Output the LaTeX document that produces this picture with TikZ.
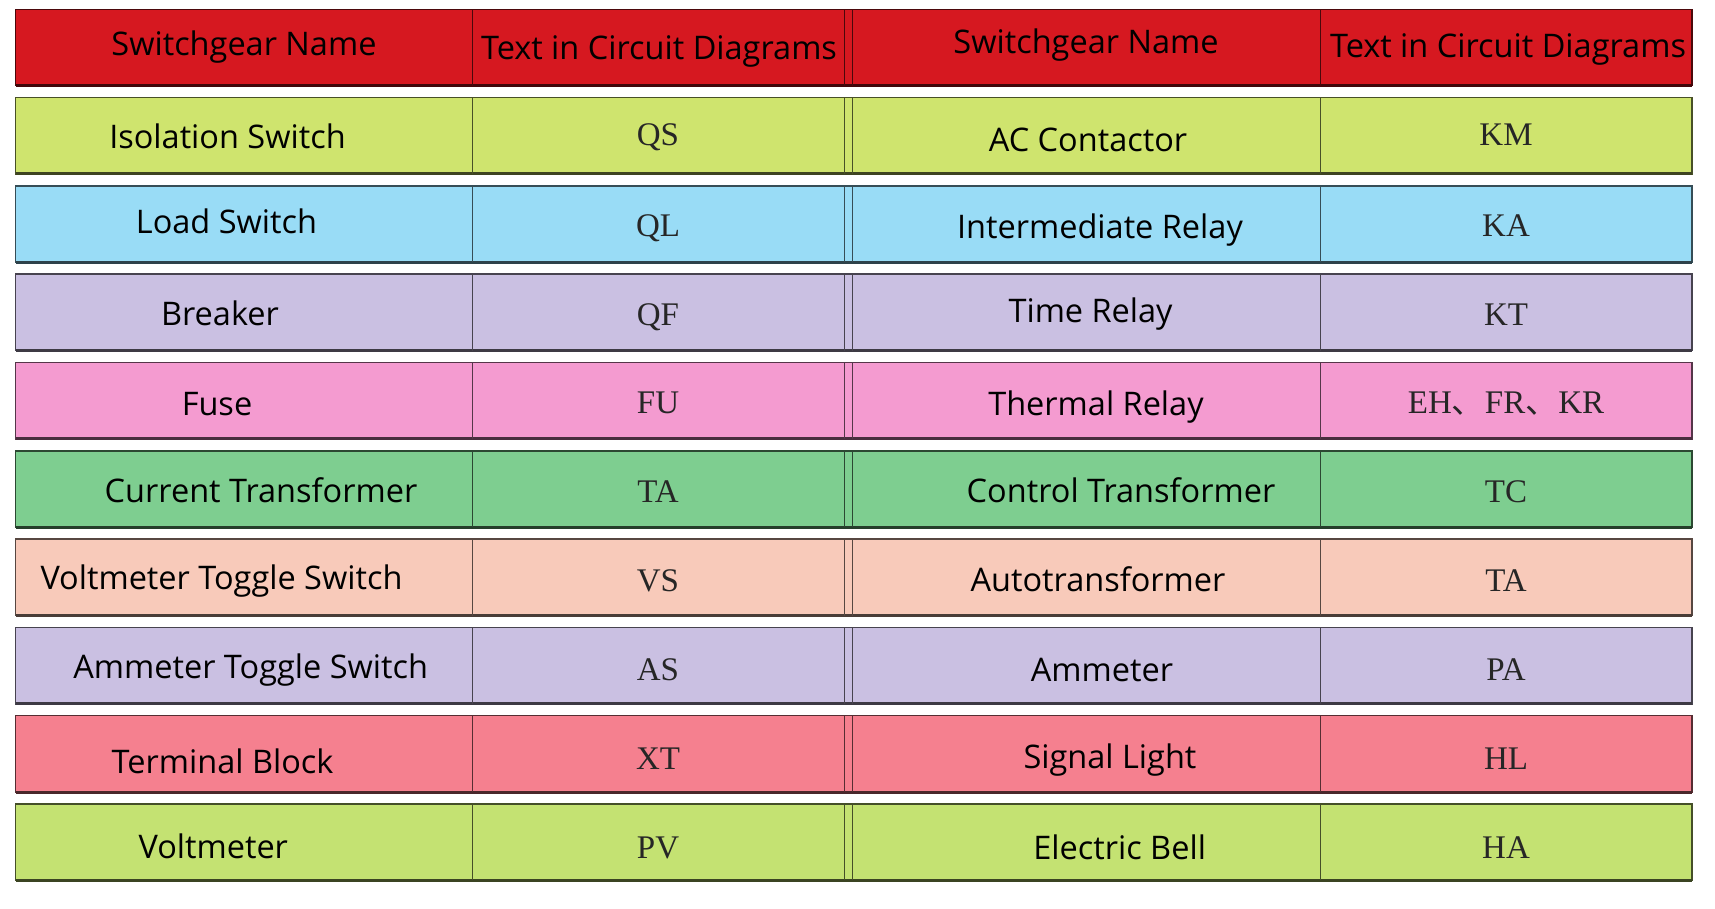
\documentclass[tikz,border=0pt]{standalone}
\usepackage{fontspec}
\setmainfont{Open Sans}
\newfontfamily\codefont{Liberation Serif}
\newfontfamily\cjkfont{Noto Sans CJK SC}
\usetikzlibrary{calc}

\definecolor{hdr}{RGB}{214,24,32}
\definecolor{ygA}{RGB}{207,228,110}
\definecolor{sky}{RGB}{153,220,246}
\definecolor{lav}{RGB}{202,192,226}
\definecolor{pnk}{RGB}{244,155,208}
\definecolor{grn}{RGB}{126,206,144}
\definecolor{pch}{RGB}{248,202,186}
\definecolor{sal}{RGB}{245,128,143}
\definecolor{ygB}{RGB}{196,226,114}

\tikzset{
  gearname/.style={anchor=base, inner sep=0pt, font=\fontsize{32.5}{38}\selectfont, text=black},
  gearcode/.style={anchor=base, inner sep=0pt, font=\codefont\fontsize{33}{38}\selectfont, text=black!85}
}

\begin{document}
\begin{tikzpicture}[x=1pt, y=-1pt]
\useasboundingbox (0,0) rectangle (1715,909);
% row bands
\foreach \rw/\fc in {0/hdr,1/ygA,2/sky,3/lav,4/pnk,5/grn,6/pch,7/lav,8/sal,9/ygB} {
 \pgfmathsetmacro\ytop{9.3+88.3*\rw}
 \pgfmathsetmacro\ybot{\ytop+76.4}
 \fill[\fc] (15.5,\ytop) rectangle (1692,\ybot);
 \draw[\fc!35!black, line width=1.4pt] (15.5,\ytop) rectangle (1692,\ybot);
 \draw[\fc!30!black, line width=3pt] (15.5,\ybot) --++(1676.5,0);
 \foreach \x in {472,844,852,1320}
  \draw[\fc!35!black, line width=1pt] (\x,\ytop) -- (\x,\ybot);
}
% header
\node[gearname] (h1) at (244,56) {Switchgear Name};
\node[gearname] (h2) at (659,60) {Text in Circuit Diagrams};
\node[gearname] (h3) at (1086,53.5) {Switchgear Name};
\node[gearname] (h4) at (1508,58) {Text in Circuit Diagrams};
% table body
\foreach \rw/\lname/\lxx/\lyy/\lcode/\lcy/\rname/\rxx/\ryy/\rcode/\rcy in {
 1/Isolation Switch/227.5/150/QS/147.5/AC Contactor/1088/153.3/KM/147.5,
 2/Load Switch/226.5/235.5/QL/238/Intermediate Relay/1100/240.2/KA/238,
 3/Breaker/220/327/QF/327/Time Relay/1090.6/323.5/KT/327,
 4/Fuse/217/417.2/FU/414.5/Thermal Relay/1096/417.2/{EH{\cjkfont 、}FR{\cjkfont 、}KR}/414.5,
 5/Current Transformer/261/504/TA/504/Control Transformer/1121/504/TC/504,
 6/Voltmeter Toggle Switch/221.5/591/VS/593/Autotransformer/1098/593/TA/593,
 7/Ammeter Toggle Switch/250.7/680/AS/682/Ammeter/1102/683/PA/682,
 8/Terminal Block/222.6/774.5/XT/771/Signal Light/1110/770/HL/771,
 9/Voltmeter/213.3/860/PV/860/Electric Bell/1119.7/861/HA/860} {
 \node[gearname, yshift=1.5pt] (l\rw) at (\lxx,\lyy) {\lname};
 \node[gearcode, yshift=1.5pt] (lc\rw) at (658,\lcy) {\lcode};
 \node[gearname, yshift=1.5pt] (r\rw) at (\rxx,\ryy) {\rname};
 \node[gearcode, yshift=1.5pt] (rc\rw) at (1506,\rcy) {\rcode};
}
\end{tikzpicture}
\end{document}
